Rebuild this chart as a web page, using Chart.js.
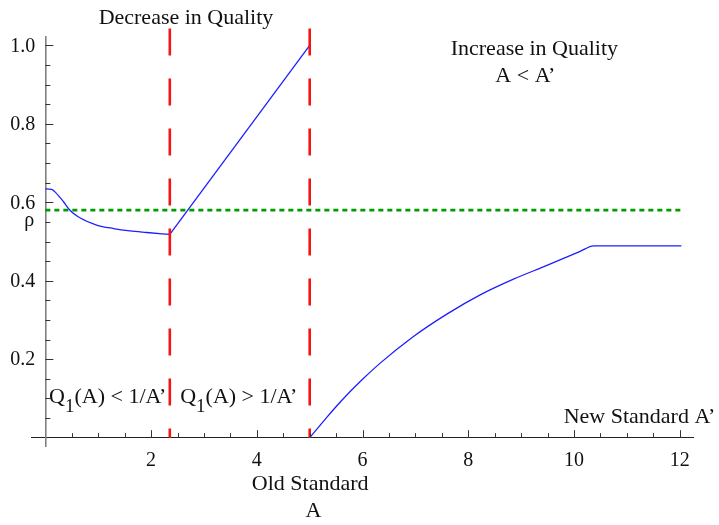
<!DOCTYPE html>
<html>
<head>
<meta charset="utf-8">
<script src="https://cdn.jsdelivr.net/npm/chart.js@4"></script>
<style>
  body { margin: 0; background: #fff; }
  #wrap { width: 719px; height: 525px; }
</style>
</head>
<body>
<div id="wrap"><canvas id="chart"></canvas></div>
<script>
// curve below the first cut (A < 2.35)
var lowX = [0, 0.12, 0.2, 0.34, 0.47, 0.62, 0.97, 1.29, 1.6, 1.92, 2.354];
var lowY = [0.634, 0.633, 0.624, 0.602, 0.579, 0.563, 0.542, 0.533, 0.527, 0.523, 0.518];
// straight piece between the cuts
var midX = [2.354, 5];
var midY = [0.518, 1.0];
// curve after the second cut
var highX = [5, 5.3, 5.6, 5.955, 6.333, 6.963, 7.594, 8.225, 8.855, 9.487, 10.117, 10.37, 12.03];
var highY = [0, 0.048, 0.094, 0.143, 0.19, 0.258, 0.315, 0.364, 0.404, 0.439, 0.475, 0.489, 0.489];
// reference lines
var cutsX = [2.354, 5];
var cutTop = 1.043;
var rho = 0.58;
var rhoEnd = 12.05;
// tick labels
var xTickLabels = [2, 4, 6, 8, 10, 12];
var yTickLabels = [0.2, 0.4, 0.6, 0.8, 1.0];

var serif = '"Liberation Serif", "Times New Roman", serif';

function pts(xs, ys) {
    return xs.map(function(x, i) { return { x: x, y: ys[i] }; });
}

var datasets = [];
cutsX.forEach(function(cx) {
    datasets.push({
        data: [{ x: cx, y: cutTop }, { x: cx, y: 0 }],
        showLine: true,
        borderColor: 'rgb(245,20,20)',
        borderWidth: 2.6,
        borderDash: [27, 23],
        pointRadius: 0,
        clip: false
    });
});
datasets.push({
    data: [{ x: 0, y: rho }, { x: rhoEnd, y: rho }],
    showLine: true,
    borderColor: 'rgb(0,155,0)',
    borderWidth: 2.6,
    borderDash: [5, 4],
    pointRadius: 0
});
[[lowX, lowY], [midX, midY], [highX, highY]].forEach(function(s) {
    datasets.push({
        data: pts(s[0], s[1]),
        showLine: true,
        borderColor: 'rgb(30,30,255)',
        borderWidth: 1.3,
        pointRadius: 0,
        cubicInterpolationMode: 'monotone'
    });
});

var notes = [
    { text: 'Decrease in Quality', x: 2.66, y: 1.054, align: 'center' },
    { text: 'Increase in Quality', x: 9.25, y: 0.975, align: 'center' },
    { text: 'A < A\u2019', x: 9.08, y: 0.906, align: 'center' },
    { text: 'New Standard A\u2019', x: 12.67, y: 0.038, align: 'right' },
    { text: 'Old Standard', x: 5.01, y: -0.133, align: 'center' },
    { text: 'A', x: 5.07, y: -0.202, align: 'center' }
];
var qNotes = [
    { rest: '(A) < 1/A\u2019', x: 0.07, y: 0.088 },
    { rest: '(A) > 1/A\u2019', x: 2.55, y: 0.088 }
];

var decor = {
    id: 'decor',
    afterDraw: function(chart) {
        var ctx = chart.ctx;
        var xs = chart.scales.x, ys = chart.scales.y;
        var x0 = xs.getPixelForValue(0), y0 = ys.getPixelForValue(0);
        ctx.save();
        // inward tick marks
        ctx.lineWidth = 1;
        ctx.strokeStyle = '#333';
        for (var i = 1; i <= 24; i++) {
            var px = Math.round(xs.getPixelForValue(i * 0.5)) + 0.5;
            var len = (i % 4 === 0) ? 7.5 : 4.5;
            ctx.beginPath();
            ctx.moveTo(px, y0);
            ctx.lineTo(px, y0 - len);
            ctx.stroke();
        }
        for (var j = 1; j <= 20; j++) {
            var py = Math.round(ys.getPixelForValue(j * 0.05)) + 0.5;
            var l2 = (j % 4 === 0) ? 8 : 5;
            ctx.beginPath();
            ctx.moveTo(x0, py);
            ctx.lineTo(x0 + l2, py);
            ctx.stroke();
        }
        ctx.fillStyle = '#111';
        // y tick labels, right aligned a little off the axis
        ctx.font = '20px ' + serif;
        ctx.textAlign = 'right';
        ctx.textBaseline = 'middle';
        yTickLabels.forEach(function(v) {
            ctx.fillText(v.toFixed(1), x0 - 10, ys.getPixelForValue(v) + 1);
        });
        ctx.textBaseline = 'alphabetic';
        ctx.fillText('\u03c1', x0 - 11, ys.getPixelForValue(rho) + 16);
        ctx.font = '22px ' + serif;
        notes.forEach(function(n) {
            ctx.textAlign = n.align;
            ctx.fillText(n.text, xs.getPixelForValue(n.x), ys.getPixelForValue(n.y));
        });
        qNotes.forEach(function(n) {
            var px = xs.getPixelForValue(n.x), py = ys.getPixelForValue(n.y);
            ctx.textAlign = 'left';
            ctx.font = '22px ' + serif;
            ctx.fillText('Q', px, py);
            var w = ctx.measureText('Q').width;
            ctx.font = '19px ' + serif;
            ctx.fillText('1', px + w, py + 9);
            var w2 = ctx.measureText('1').width;
            ctx.font = '22px ' + serif;
            ctx.fillText(n.rest, px + w + w2, py);
        });
        ctx.restore();
    }
};

new Chart(document.getElementById('chart'), {
    type: 'scatter',
    data: { datasets: datasets },
    options: {
        responsive: true,
        maintainAspectRatio: false,
        animation: false,
        layout: { padding: { left: 31.6, right: 26, top: 36.7, bottom: 78.3 } },
        plugins: { legend: { display: false }, tooltip: { enabled: false } },
        scales: {
            x: {
                type: 'linear',
                position: { y: 0 },
                min: -0.26,
                max: 12.25,
                afterBuildTicks: function(axis) {
                    axis.ticks = xTickLabels.map(function(v) { return { value: v }; });
                },
                ticks: {
                    font: { family: serif, size: 20 },
                    color: '#111',
                    padding: 3,
                    maxRotation: 0,
                    autoSkip: false,
                    callback: function(v) { return String(v); }
                },
                grid: { display: false },
                border: { display: true, color: '#222', width: 1 }
            },
            y: {
                type: 'linear',
                position: { x: 0 },
                min: -0.023,
                max: 1.022,
                ticks: { display: false },
                grid: { display: false },
                border: { display: true, color: '#808080', width: 1.6 }
            }
        }
    },
    plugins: [decor]
});
</script>
</body>
</html>
